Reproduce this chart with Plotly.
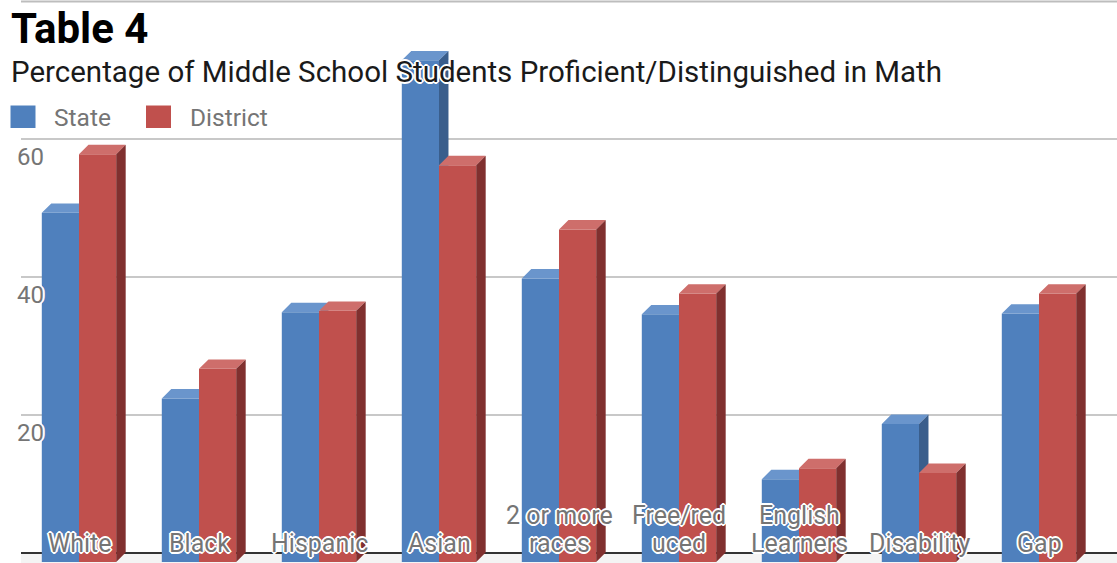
import plotly.graph_objects as go

# ---------------- data ----------------
categories = ["White", "Black", "Hispanic", "Asian", "2 or more races",
              "Free/reduced", "English Learners", "Disability", "Gap"]
category_labels = ["White", "Black", "Hispanic", "Asian", "2 or more<br>races",
                   "Free/red<br>uced", "English<br>Learners", "Disability", "Gap"]
state = [50.6, 23.7, 36.2, 72.7, 41.1, 35.9, 12.0, 20.0, 36.0]
district = [59.1, 28.0, 36.4, 57.5, 48.2, 38.9, 13.6, 12.9, 38.9]
series_names = ["State", "District"]
y_ticks = [20, 40, 60]

# ---------------- style ----------------
W_FIG, H_FIG = 1117, 563
ML, MR, MT, MB = 21, 0, 0, 0
PW, PH = W_FIG - ML - MR, H_FIG - MT - MB
X_RANGE = [-0.4833, 8.65]
Y_RANGE = [-1.51, 80.09]
BAR_W = 0.31          # front face width (category units)
DEPTH_X = 0.079       # 3-D depth, x component (category units)
DEPTH_Y = 1.36        # 3-D depth, y component (value units)
LABEL_LINE_PX = 28    # line spacing of the category labels

COLORS = {
    "State": {"front": "#4F80BD", "top": "#6A95CC", "side": "#3A5E8C"},
    "District": {"front": "#C0504D", "top": "#CE6E6B", "side": "#80302F"},
}
GRAY_TEXT = "#757575"
HALO = ("1px 1px 0 #fff, -1px -1px 0 #fff, 1px -1px 0 #fff, -1px 1px 0 #fff, "
        "2px 0 0 #fff, -2px 0 0 #fff, 0 2px 0 #fff, 0 -2px 0 #fff")
FONT = "Roboto, 'Noto Sans', Arial, sans-serif"


def px_x(p):
    return (p - ML) / PW


def px_y(p):
    return 1 - (p - MT) / PH


def clip_above(poly, y0):
    out = []
    n = len(poly)
    for i in range(n):
        cur, prev = poly[i], poly[i - 1]
        cin, pin = cur[1] >= y0, prev[1] >= y0

        def inter(a, b):
            t = (y0 - a[1]) / (b[1] - a[1])
            return (a[0] + t * (b[0] - a[0]), y0)
        if cin:
            if not pin:
                out.append(inter(prev, cur))
            out.append(cur)
        elif pin:
            out.append(inter(prev, cur))
    return out


def add_poly(xs, ys, poly):
    if len(poly) < 3:
        return
    for (px, py) in poly:
        xs.append(px)
        ys.append(py)
    xs.append(poly[0][0])
    ys.append(poly[0][1])
    xs.append(None)
    ys.append(None)


positions = list(range(len(categories)))
fig = go.Figure()

# front faces as bars
offsets = {"State": -BAR_W, "District": 0.0}
values = {"State": state, "District": district}
for name in series_names:
    fig.add_trace(go.Bar(
        x=positions, y=values[name], base=-DEPTH_Y, offset=offsets[name],
        width=BAR_W, name=name, marker=dict(color=COLORS[name]["front"], line=dict(width=0)),
        customdata=values[name], hovertemplate=name + ": %{customdata}<extra></extra>",
        showlegend=False,
    ))

# top and side faces
for name in series_names:
    tx, ty, sx, sy = [], [], [], []
    for i, pos in enumerate(positions):
        v = values[name][i]
        xl = pos + offsets[name]
        xr = xl + BAR_W
        top = [(xl, v - DEPTH_Y), (xr, v - DEPTH_Y), (xr + DEPTH_X, v), (xl + DEPTH_X, v)]
        side = [(xr, -DEPTH_Y), (xr, v - DEPTH_Y), (xr + DEPTH_X, v), (xr + DEPTH_X, 0)]
        if name == "State":
            y0 = district[i] - DEPTH_Y  # District front face hides what lies below
            left_piece = [(xl, v - DEPTH_Y), (xr, v - DEPTH_Y), (xr, v), (xl + DEPTH_X, v)]
            tri = [(xr, v - DEPTH_Y), (xr + DEPTH_X, v), (xr, v)]
            add_poly(tx, ty, left_piece)
            add_poly(tx, ty, clip_above(tri, y0))
            add_poly(sx, sy, clip_above(side, y0))
        else:
            add_poly(tx, ty, top)
            add_poly(sx, sy, side)
    for xs, ys, face in ((tx, ty, "top"), (sx, sy, "side")):
        fig.add_trace(go.Scatter(
            x=xs, y=ys, mode="lines", fill="toself", fillcolor=COLORS[name][face],
            line=dict(width=0, color=COLORS[name][face]), hoverinfo="skip", showlegend=False,
        ))

annotations = []
# category labels inside plot at bottom (one annotation per line for tight spacing)
for pos, lab in zip(positions, category_labels):
    lines = lab.split("<br>")
    for k, line in enumerate(reversed(lines)):
        annotations.append(dict(
            x=pos, y=0, xref="x", yref="y", text=line, showarrow=False,
            xanchor="center", yanchor="bottom", yshift=-7 + k * LABEL_LINE_PX,
            font=dict(family=FONT, size=25, color=GRAY_TEXT, shadow=HALO),
        ))
# y tick labels
for t in y_ticks:
    annotations.append(dict(
        x=0, y=t, xref="paper", yref="y", text=str(t), showarrow=False,
        xanchor="left", yanchor="top", xshift=-6, yshift=-2,
        font=dict(family=FONT, size=24, color=GRAY_TEXT, shadow=HALO),
    ))
# title & subtitle
annotations.append(dict(
    x=px_x(9), y=px_y(28), xref="paper", yref="paper", text="<b>Table 4</b>",
    showarrow=False, xanchor="left", yanchor="middle",
    font=dict(family=FONT, size=42, color="#000000"),
))
annotations.append(dict(
    x=px_x(9), y=px_y(72), xref="paper", yref="paper",
    text="Percentage of Middle School Students Proficient/Distinguished in Math",
    showarrow=False, xanchor="left", yanchor="middle",
    font=dict(family=FONT, size=29.5, color="#1a1a1a", shadow=HALO),
))
# custom legend
legend_items = [("State", 10.5, 52), ("District", 146, 188)]
shapes = []
for name, sx0, tx0 in legend_items:
    shapes.append(dict(
        type="rect", xref="paper", yref="paper",
        x0=px_x(sx0), x1=px_x(sx0 + 25), y0=px_y(105.5), y1=px_y(128),
        fillcolor=COLORS[name]["front"], line=dict(width=0), layer="above",
    ))
    annotations.append(dict(
        x=px_x(tx0), y=px_y(117), xref="paper", yref="paper", text=name,
        showarrow=False, xanchor="left", yanchor="middle",
        font=dict(family=FONT, size=24.5, color=GRAY_TEXT),
    ))
# floor and top rule
shapes.append(dict(type="rect", xref="paper", yref="y", x0=0, x1=1, y0=Y_RANGE[0], y1=0,
                   fillcolor="#f4f4f4", line=dict(width=0), layer="below"))
shapes.append(dict(type="line", xref="paper", yref="paper", x0=0, x1=1,
                   y0=px_y(1.5), y1=px_y(1.5), line=dict(color="#bdbdbd", width=2)))

fig.update_layout(
    width=W_FIG, height=H_FIG,
    margin=dict(l=ML, r=MR, t=MT, b=MB, pad=0),
    paper_bgcolor="white", plot_bgcolor="white",
    barmode="overlay", showlegend=False,
    xaxis=dict(range=X_RANGE, showgrid=False, showticklabels=False, zeroline=False,
               showline=False, ticks="", fixedrange=True),
    yaxis=dict(range=Y_RANGE, tickvals=y_ticks, showticklabels=False, ticks="",
               showgrid=True, gridcolor="#c8c8c8", gridwidth=1.5,
               zeroline=True, zerolinecolor="#333333", zerolinewidth=2,
               showline=False, fixedrange=True),
    annotations=annotations, shapes=shapes,
    font=dict(family=FONT),
)

fig.write_html("out.html", config={"displayModeBar": False},
               post_script="document.body.style.margin='0px';")
